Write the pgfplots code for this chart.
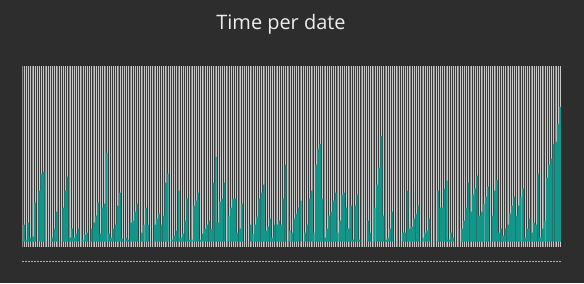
\documentclass[border=0pt]{standalone}
\usepackage{fontspec}
\setmainfont{Open Sans}
\usepackage{pgfplots}
\pgfplotsset{compat=1.18}
\usepackage{pgfplotstable}
\definecolor{bgc}{HTML}{2D2D2D}
\definecolor{plotbg}{HTML}{888888}
\definecolor{barc}{HTML}{12968A}
\definecolor{gridw}{HTML}{C8C8C8}
\definecolor{gridd}{HTML}{3A3A3A}
\definecolor{titlec}{HTML}{EDEDED}

\pgfplotstableread{
y
17
2
19
4
5
39
0
51
68
70
0
0
0
4
13
30
0
0
34
51
65
4
13
4
8
13
0
2
7
9
0
13
19
26
39
8
34
38
89
8
4
13
17
36
49
3
0
4
2
19
21
30
38
0
9
17
34
17
0
0
17
23
28
17
26
59
68
0
2
6
11
51
4
8
21
43
2
2
36
41
49
2
8
13
17
21
13
59
85
19
40
43
59
0
26
34
43
43
9
13
38
0
0
0
17
8
17
25
43
49
57
11
15
23
4
17
17
21
17
43
77
0
11
9
23
28
34
41
0
9
17
43
51
9
77
93
98
43
4
13
26
30
41
49
9
21
47
49
34
13
36
2
36
47
2
0
0
0
21
9
0
34
57
74
106
26
2
4
13
30
0
0
0
0
9
9
51
13
15
23
28
36
0
4
9
11
23
0
0
0
51
34
34
53
61
2
9
4
0
0
0
13
21
34
59
30
47
53
66
26
30
38
45
55
0
26
51
62
9
13
6
13
17
28
36
45
26
36
45
53
4
13
23
9
19
17
68
4
13
21
64
77
83
98
100
118
135
}\datatable

\begin{document}
\begin{tikzpicture}[x=1bp,y=1bp]
\fill[bgc] (0,0) rectangle (584,283);
\node[text=titlec, font=\fontsize{20}{23}\selectfont, anchor=base] at (281,253.5) {Time per date};
\begin{axis}[
  at={(22bp,36bp)}, anchor=south west,
  width=539bp, height=181bp, scale only axis,
  xmin=-0.9, xmax=246.45, ymin=-5.5, ymax=176,
  axis background/.style={fill=plotbg},
  axis line style={draw=none},
  xtick={0,1,...,246},
  minor xtick={-0.5,0.5,...,246.5},
  ytick=\empty,
  xticklabels={},
  major tick length=0pt, minor tick length=0pt,
  xmajorgrids, xminorgrids,
  major grid style={gridw, line width=0.35bp},
  minor grid style={gridd, line width=0.35bp},
  ybar, bar width=0.85,
]
\addplot[fill=barc, draw=none] table[x expr=\coordindex, y=y] {\datatable};
\end{axis}
\draw[color=gray!60!white, line width=0.8bp, dash pattern=on 1.5bp off 1.5bp] (22,21.5) -- (562,21.5);
\end{tikzpicture}
\end{document}
